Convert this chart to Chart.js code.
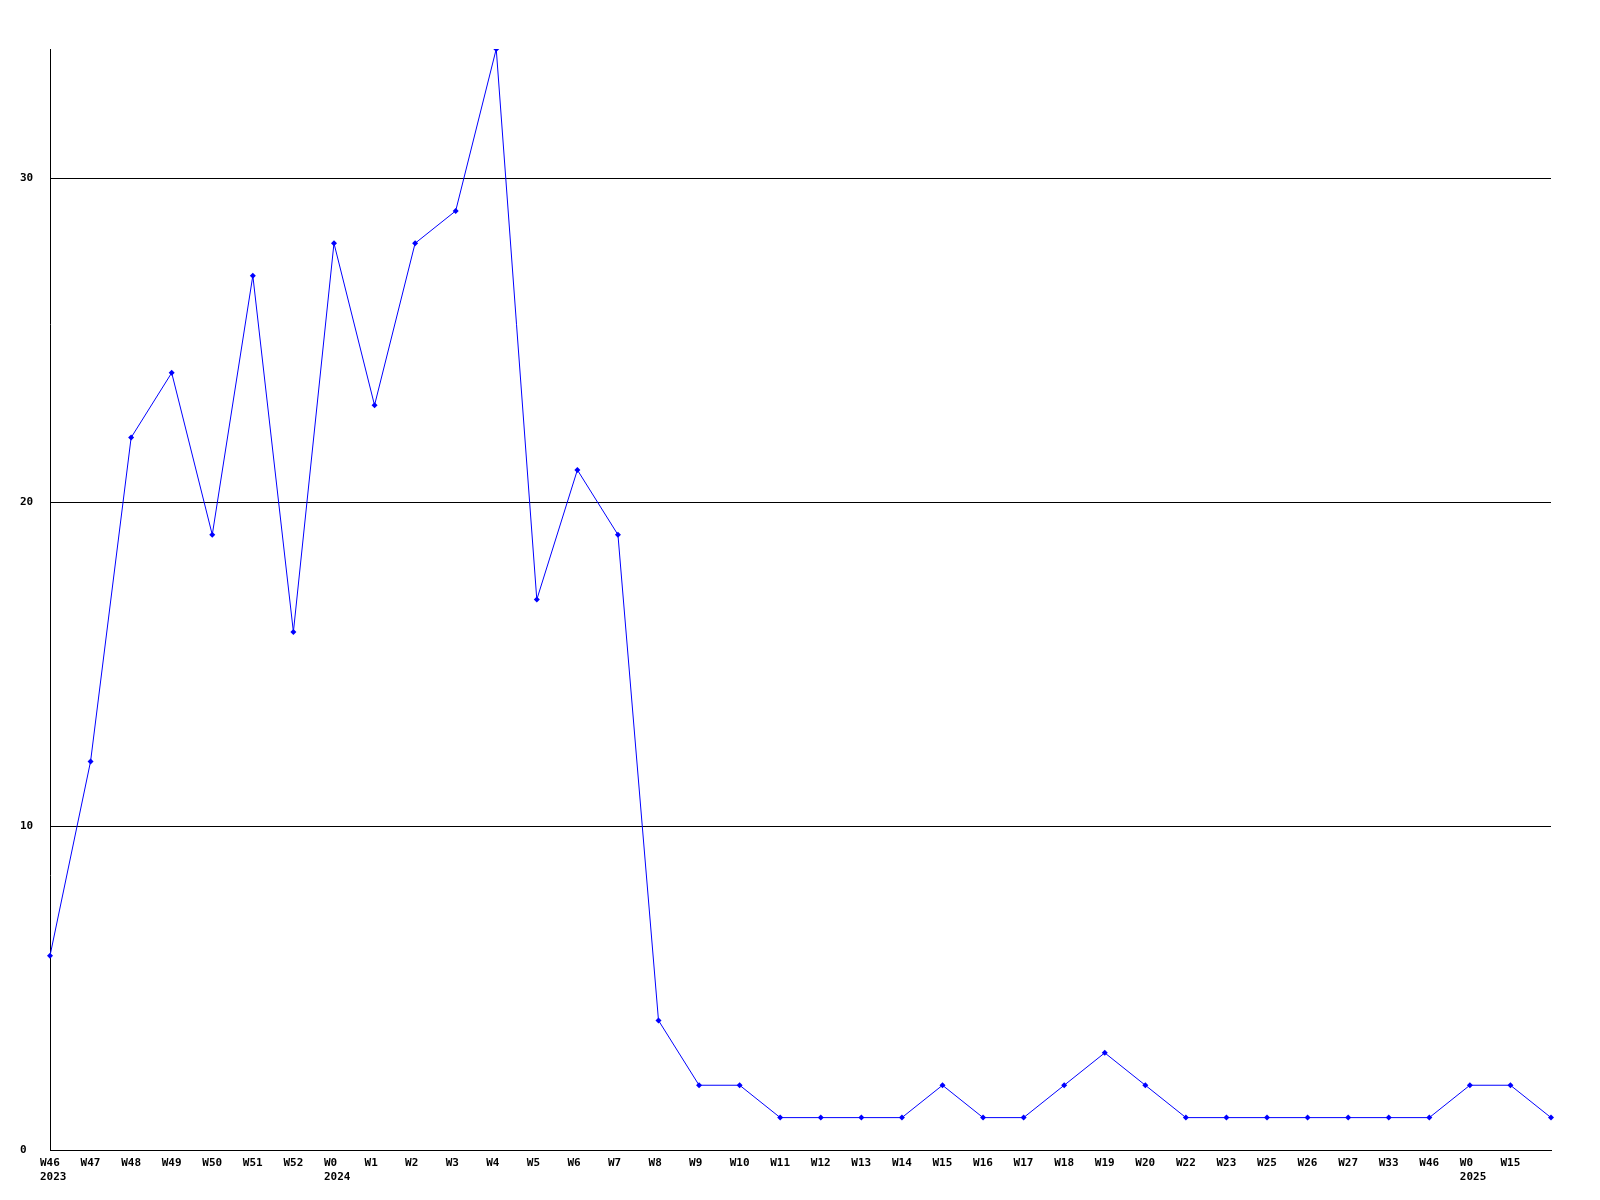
<!DOCTYPE html>
<html>
<head>
<meta charset="utf-8">
<script src="https://cdn.jsdelivr.net/npm/chart.js@4/dist/chart.umd.min.js"></script>
<style>
  html, body { margin: 0; padding: 0; background: #fff; }
  #wrap { width: 1600px; height: 1200px; }
</style>
</head>
<body>
<div id="wrap"><canvas id="myChart"></canvas></div>
<script>
// week labels, year shown under the first week of each year
const weeks = ['W46', 'W47', 'W48', 'W49', 'W50', 'W51', 'W52', 'W0', 'W1', 'W2', 'W3', 'W4', 'W5', 'W6', 'W7', 'W8', 'W9', 'W10', 'W11', 'W12', 'W13', 'W14', 'W15', 'W16', 'W17', 'W18', 'W19', 'W20', 'W22', 'W23', 'W25', 'W26', 'W27', 'W33', 'W46', 'W0', 'W15', ''];
const years = ['2023', '', '', '', '', '', '', '2024', '', '', '', '', '', '', '', '', '', '', '', '', '', '', '', '', '', '', '', '', '', '', '', '', '', '', '', '2025', '', ''];
const counts = [6, 12, 22, 24, 19, 27, 16, 28, 23, 28, 29, 34, 17, 21, 19, 4, 2, 2, 1, 1, 1, 1, 2, 1, 1, 2, 3, 2, 1, 1, 1, 1, 1, 1, 1, 2, 2, 1];
const yTicks = [0, 10, 20, 30];

const labels = weeks.map((w, i) => years[i] ? [w, years[i]] : w);
const tickFont = { family: 'DejaVu Sans Mono', size: 11, weight: 'bold', lineHeight: 1.3 };

const ctx = document.getElementById('myChart');
const myChart = new Chart(ctx, {
  type: 'line',
  data: {
    labels: labels,
    datasets: [{
      data: counts,
      borderColor: '#0000ff',
      backgroundColor: '#0000ff',
      borderWidth: 1,
      pointStyle: 'rectRot',
      pointRadius: 3,
      pointBorderWidth: 0,
      tension: 0,
      fill: false
    }]
  },
  options: {
    responsive: true,
    maintainAspectRatio: false,
    animation: false,
    layout: { padding: { left: 20, top: 49, right: 49, bottom: 0 } },
    plugins: { legend: { display: false }, tooltip: { enabled: false } },
    scales: {
      x: {
        grid: { display: false, drawTicks: false },
        border: { display: true, color: '#000', width: 1 },
        ticks: {
          color: '#000', font: tickFont, autoSkip: false, maxRotation: 0,
          align: 'start', labelOffset: -10, padding: 6
        },
        afterFit: (s) => { s.height = 50; }
      },
      y: {
        min: 0,
        max: 34,
        grid: { color: '#000', lineWidth: 1, drawTicks: false },
        border: { display: true, color: '#000', width: 1 },
        afterBuildTicks: (s) => { s.ticks = yTicks.map(v => ({ value: v })); },
        ticks: { color: '#000', font: tickFont, crossAlign: 'far', padding: 4 },
        afterFit: (s) => { s.width = 30; }
      }
    }
  }
});
</script>
</body>
</html>
